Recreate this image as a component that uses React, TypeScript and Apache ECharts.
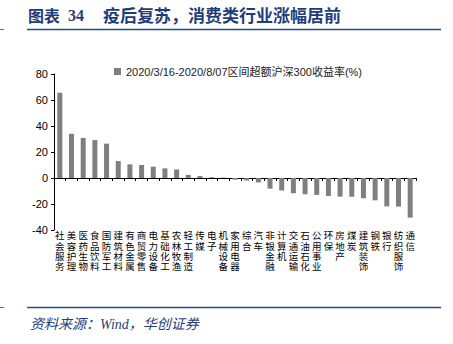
import React, { useEffect, useRef } from "react";
import * as echarts from "echarts";

const categories = [
  "社会服务", "美容护理", "医药生物", "食品饮料", "国防军工", "建筑材料", "有色金属", "商贸零售",
  "电力设备", "基础化工", "农林牧渔", "轻工制造", "传媒", "电子", "机械设备", "家用电器",
  "综合", "汽车", "非银金融", "计算机", "交通运输", "石油石化", "公用事业", "环保",
  "房地产", "煤炭", "建筑装饰", "钢铁", "银行", "纺织服饰", "通信",
];
const values = [
  65.6, 34, 30.8, 29.2, 26.4, 13, 10.5, 10, 8.7, 7.4, 6.6, 2.4, 1.5, 0.6, 0.3, -1.3,
  -1.9, -3.4, -8.2, -9.6, -11.7, -12.5, -13, -13.8, -14.3, -14.4, -15.6, -17.2, -21.8, -22, -30.5,
];
const seriesName = "2020/3/16-2020/8/07区间超额沪深300收益率(%)";
const yMin = -40;
const yMax = 80;
const yStep = 20;

export default function App() {
  const ref = useRef<HTMLDivElement>(null);
  useEffect(() => {
    if (!ref.current) return;
    const chart = echarts.init(ref.current, undefined, { renderer: "svg" });
    const blue = "#1f3d7a";
    chart.setOption({
      animation: false,
      backgroundColor: "#fff",
      legend: {
        left: 109,
        top: 61,
        itemWidth: 7,
        itemHeight: 7,
        icon: "rect",
        textStyle: { fontSize: 11, color: "#222", fontFamily: "Liberation Sans, Noto Sans CJK SC" },
        data: [seriesName],
      },
      grid: { left: 54, right: 37, top: 74, bottom: 114, containLabel: false },
      xAxis: [
        {
          type: "category",
          data: categories,
          axisLine: { onZero: true, lineStyle: { color: "#000", width: 1 } },
          axisTick: { show: true, interval: 0, length: 3, lineStyle: { color: "#000" } },
          axisLabel: { show: false },
        },
        {
          type: "category",
          data: categories,
          position: "bottom",
          axisLine: { show: false, onZero: false },
          axisTick: { show: false },
          axisLabel: {
            interval: 0,
            margin: 0,
            fontSize: 9.5,
            lineHeight: 10.4,
            color: "#000",
            fontFamily: "Noto Sans CJK SC",
            formatter: (v: string) => v.split("").join("\n"),
          },
        },
      ],
      yAxis: {
        type: "value",
        min: yMin,
        max: yMax,
        interval: yStep,
        axisLine: { show: true, lineStyle: { color: "#000" } },
        axisTick: { show: true, length: 3, lineStyle: { color: "#000" } },
        splitLine: { show: false },
        axisLabel: { fontSize: 11, color: "#000", margin: 6, fontFamily: "Liberation Sans" },
      },
      series: [
        {
          name: seriesName,
          type: "bar",
          xAxisIndex: 0,
          data: values,
          barWidth: 5,
          itemStyle: { color: "#7f7f7f" },
        },
      ],
      graphic: [
        { type: "text", left: 28, top: 7, style: { text: "图表", fontSize: 16, fontWeight: "bold", fill: blue, fontFamily: "Noto Sans CJK SC" } },
        { type: "text", left: 68, top: 7, style: { text: "34", fontSize: 16, fontWeight: "bold", fill: blue, fontFamily: "Liberation Serif" } },
        { type: "text", left: 103, top: 6, style: { text: "疫后复苏，消费类行业涨幅居前", fontSize: 17, fontWeight: "bold", fill: blue, fontFamily: "Noto Sans CJK SC" } },
        { type: "line", shape: { x1: 27, y1: 29.5, x2: 441, y2: 29.5 }, style: { stroke: "#1f4e8c", lineWidth: 1.5 } },
        { type: "line", shape: { x1: 0, y1: 29.5, x2: 4, y2: 29.5 }, style: { stroke: "#4a6fa5", lineWidth: 1 } },
        { type: "line", shape: { x1: 27, y1: 307.5, x2: 441, y2: 307.5 }, style: { stroke: "#1f4e8c", lineWidth: 1.5 } },
        { type: "line", shape: { x1: 0, y1: 307.5, x2: 4, y2: 307.5 }, style: { stroke: "#4a6fa5", lineWidth: 1 } },
        { type: "text", left: 30, top: 317, style: { text: "资料来源：Wind，华创证券", fontSize: 14, fontStyle: "italic", fill: blue, fontFamily: "Liberation Serif, Noto Sans CJK SC" } },
      ],
    });
    return () => chart.dispose();
  }, []);
  return <div ref={ref} style={{ position: "fixed", left: 0, top: 0, width: 453, height: 344 }} />;
}
